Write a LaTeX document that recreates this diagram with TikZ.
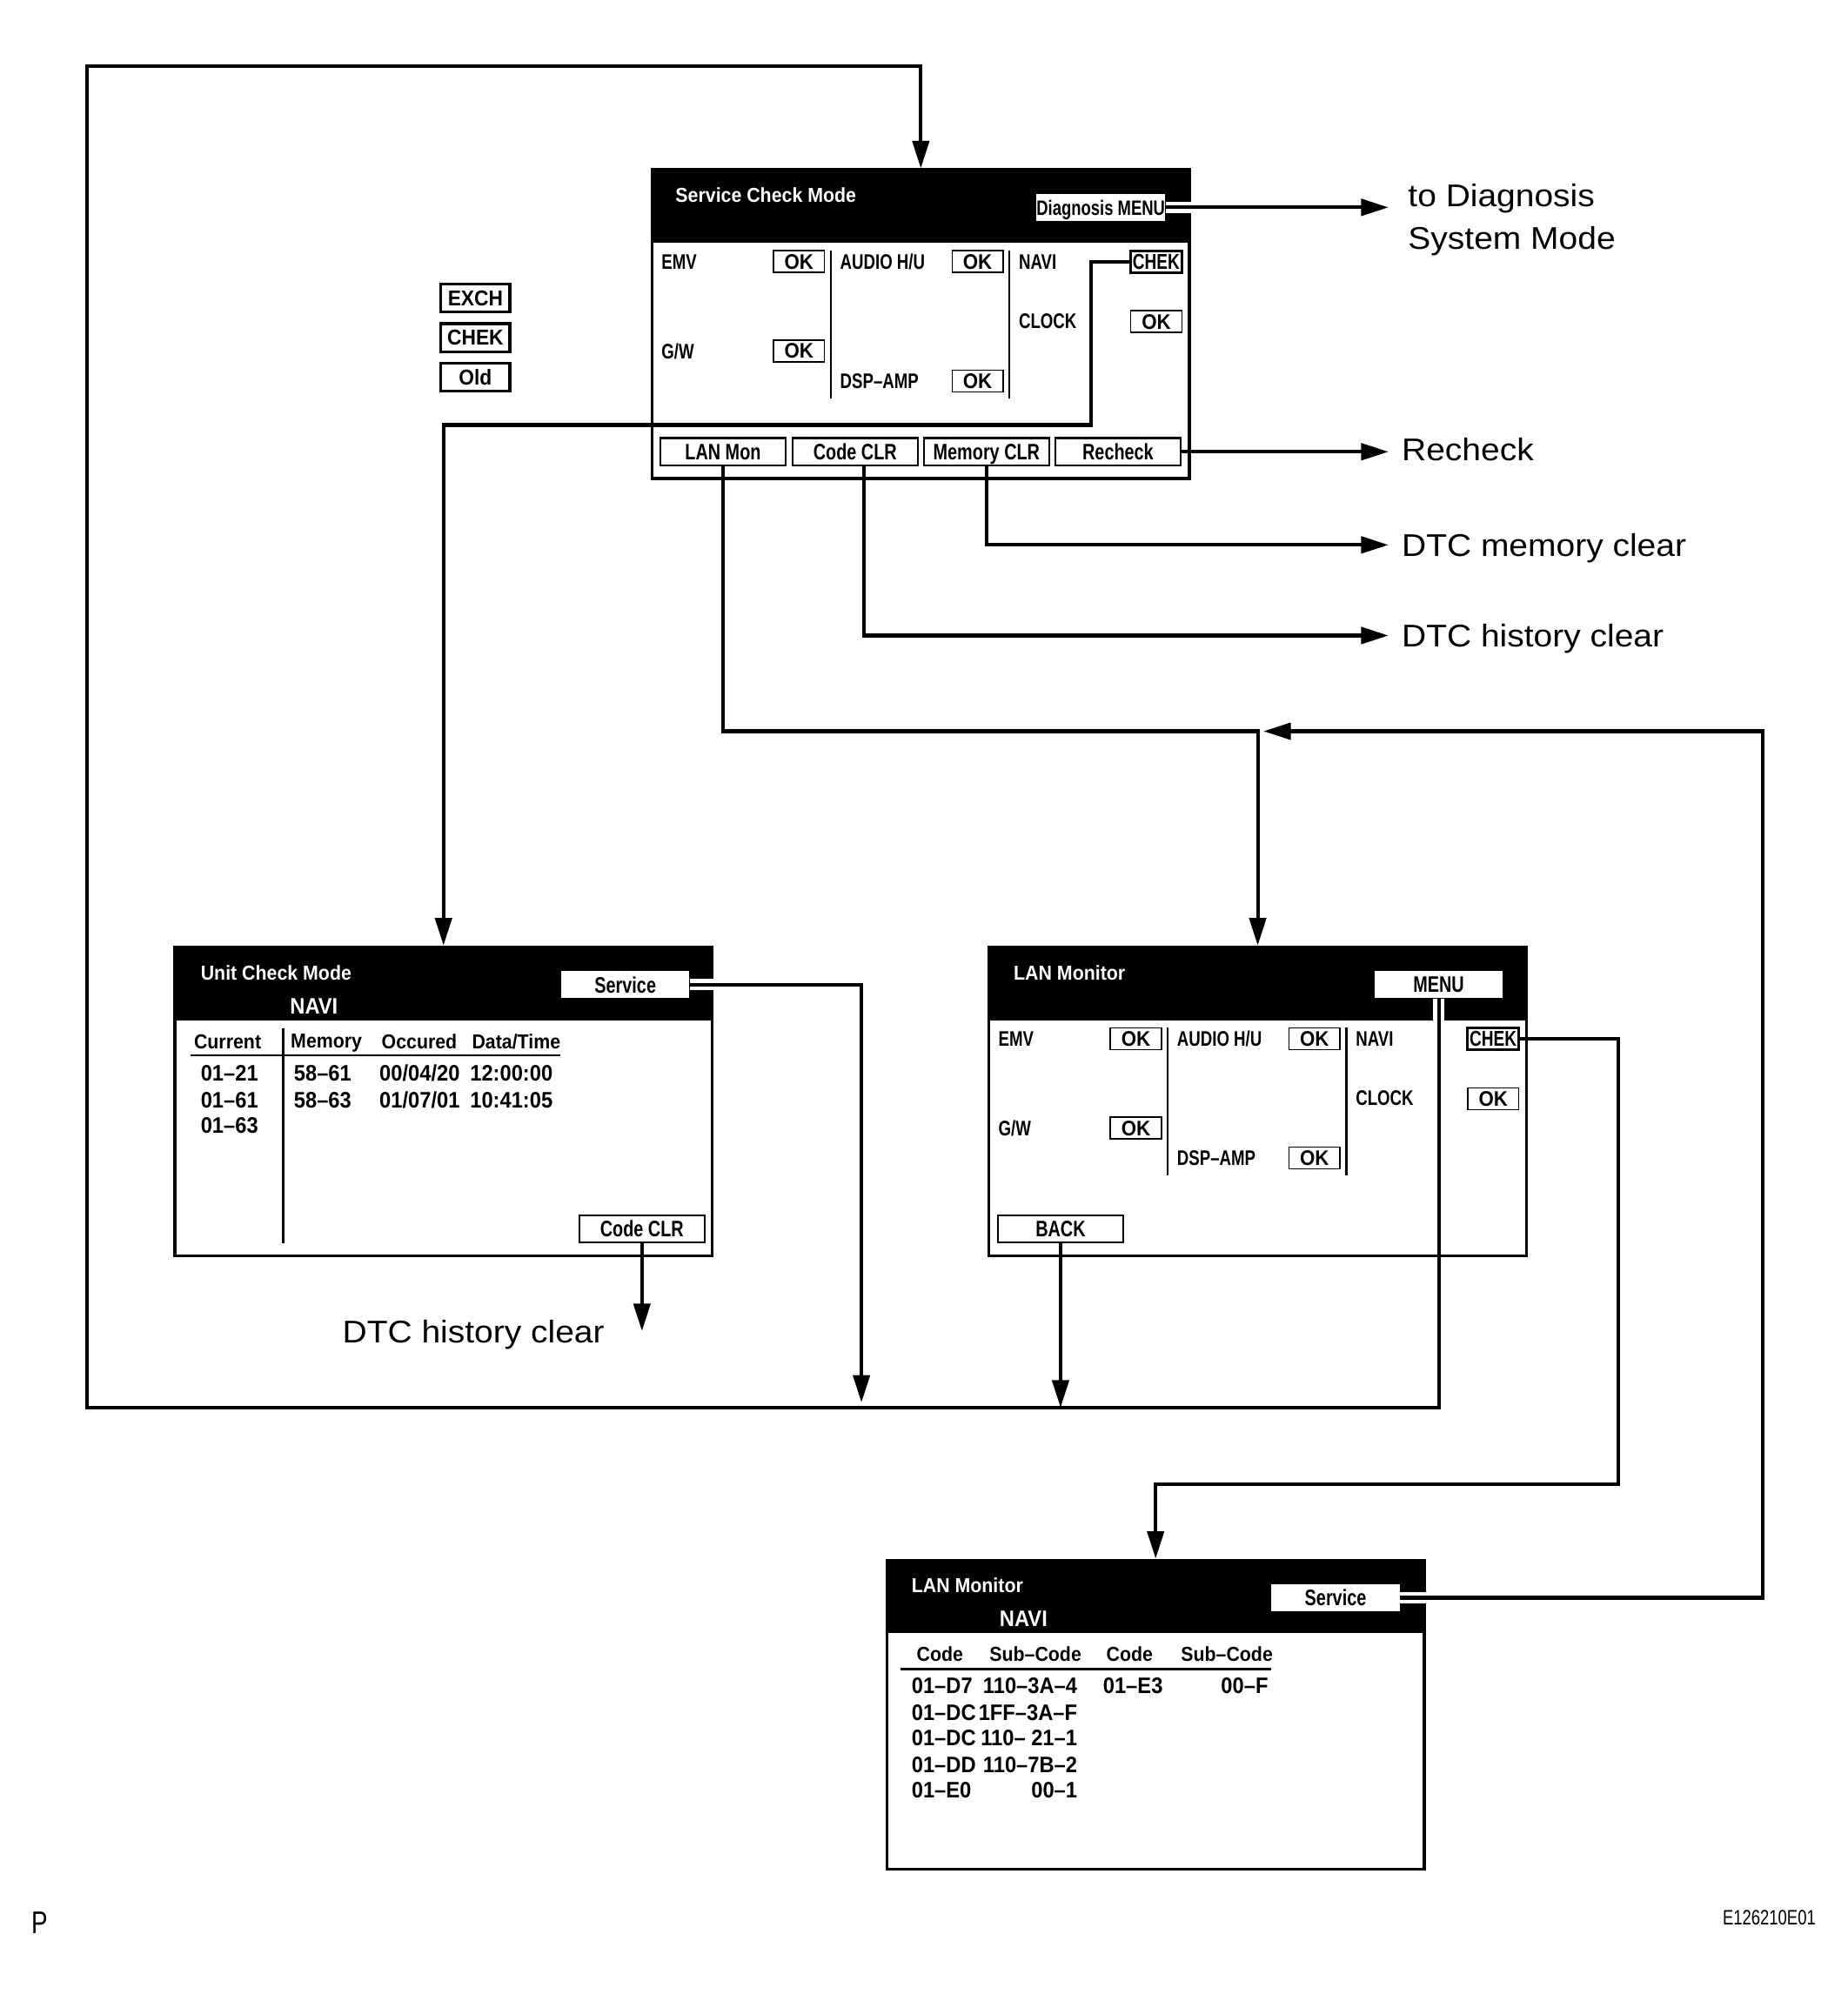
\documentclass[tikz,border=0pt]{standalone}
\usepackage{fontspec}
\setmainfont{Liberation Sans}
\newfontfamily\condfont[FakeStretch=0.77]{Liberation Sans}
\newfontfamily\widefont[FakeStretch=0.92]{Liberation Sans}
\newfontfamily\notefont[FakeStretch=1.08]{Liberation Sans}
\usepackage{tikz}
\usetikzlibrary{positioning, arrows.meta, calc}

% unit status grid, shared by Service Check Mode and LAN Monitor
\newcommand{\statusgrid}[1]{%
  \draw[sep] (140,63) -- (140,179);
  \draw[sep] (280,63) -- (280,179);
  \node[item] (#1emv) at (7,72) {EMV};
  \node[okbox] (#1emvok) at (115,72) {OK};
  \node[item] (#1audio) at (147,72) {AUDIO H/U};
  \node[okbox] (#1audiook) at (255,72) {OK};
  \node[item] (#1navi) at (287,72) {NAVI};
  \node[chekbox] (#1chek) at (395,72) {CHEK};
  \node[item] (#1clock) at (287,118.5) {CLOCK};
  \node[okbox] (#1clockok) at (395,119) {OK};
  \node[item] (#1gw) at (7,142) {G/W};
  \node[okbox] (#1gwok) at (115,142) {OK};
  \node[item] (#1dsp) at (147,165.5) {DSP–AMP};
  \node[okbox] (#1dspok) at (255,165.5) {OK};
}

\begin{document}
\begin{tikzpicture}[x=0.2mm, y=-0.2mm,
    screen/.style={draw, line width=1.3pt, minimum width=84.2mm,
                   minimum height=48.4mm, inner sep=0},
    headbtn/.style={fill=white, minimum width=20.1mm, minimum height=4.3mm,
                    inner sep=0, text depth=0pt,
                    font=\condfont\bfseries\fontsize{10}{12}\selectfont},
    title/.style={anchor=west, inner sep=0, text=white, text depth=0pt,
                  font=\widefont\bfseries\fontsize{9}{11}\selectfont},
    hnavi/.style={inner sep=0, text=white, text depth=0pt,
                  font=\widefont\bfseries\fontsize{10}{12}\selectfont},
    item/.style={anchor=west, inner sep=0, text depth=0pt,
                 font=\condfont\bfseries\fontsize{9.4}{11}\selectfont},
    okbox/.style={draw, line width=0.6pt, minimum width=8mm, minimum height=3.4mm,
                  inner sep=0, text depth=0pt,
                  font=\widefont\bfseries\fontsize{9.4}{11}\selectfont},
    chekbox/.style={okbox, line width=1.2pt,
                    font=\condfont\bfseries\fontsize{9.6}{11}\selectfont},
    button/.style={draw, line width=0.8pt, minimum width=19.6mm, minimum height=4.3mm,
                   inner sep=0, text depth=0pt,
                   font=\condfont\bfseries\fontsize{10}{12}\selectfont},
    colhead/.style={anchor=west, inner sep=0, text depth=0pt,
                    font=\widefont\bfseries\fontsize{9}{11}\selectfont},
    cell/.style={anchor=west, inner sep=0, text depth=0pt,
                 font=\widefont\bfseries\fontsize{10}{12}\selectfont},
    cellr/.style={cell, anchor=east},
    sep/.style={line width=0.9pt},
    tag/.style={draw, line width=1.2pt, minimum width=10.8mm, minimum height=4.4mm,
                inner sep=0, text depth=0pt,
                font=\widefont\bfseries\fontsize{9.6}{11}\selectfont},
    note/.style={anchor=west, inner sep=0, text depth=0pt,
                 font=\notefont\fontsize{14}{17}\selectfont},
    flow/.style={line width=1.6pt, -{Triangle[length=4.3mm, width=2.6mm]}},
    wire/.style={line width=1.6pt},
    halo/.style={white, line width=5pt}]

  % background / page size
  \fill[white] (0,0) rectangle (1448,1568);

  % Service Check Mode
  \begin{scope}[shift={(511,133)}]
    \fill (0,0) rectangle (421,57.5);
    \node[screen] (scm) at (210.5,121) {};
    \node[title] (scmtitle) at (18,20) {Service Check Mode};
    \node[headbtn, font=\condfont\bfseries\fontsize{9.3}{11}\selectfont]
         (scmdiag) at (351.5,29.5) {Diagnosis MENU};
    \statusgrid{scm}
    \node[button] (scmlan) at (55.5,221) {LAN Mon};
    \node[button] (scmcode) at (159,221) {Code CLR};
    \node[button] (scmmem) at (262,221) {Memory CLR};
    \node[button] (scmre) at (365,221) {Recheck};
  \end{scope}

  % Unit Check Mode
  \begin{scope}[shift={(137,742)}]
    \fill (0,0) rectangle (421,57.5);
    \node[screen] (ucm) at (210.5,121) {};
    \node[title] (ucmtitle) at (20,20.5) {Unit Check Mode};
    \node[hnavi] (ucmnavi) at (109,46.5) {NAVI};
    \node[headbtn] (ucmsrv) at (353,29.5) {Service};
    \node[colhead] (ucmh1) at (14.7,74) {Current};
    \node[colhead] (ucmh2) at (90.5,74) {Memory};
    \node[colhead] (ucmh3) at (161.7,74) {Occured};
    \node[colhead] (ucmh4) at (232.5,74) {Data/Time};
    \draw[sep] (12.5,85) -- (302,85);
    \draw[sep] (85,64) -- (85,232.5);
    \node[cell] (ucmc1) at (20,99) {01–21};
    \node[cell] (ucmc2) at (20,120) {01–61};
    \node[cell] (ucmc3) at (20,140) {01–63};
    \node[cell] (ucmm1) at (93,99) {58–61};
    \node[cell] (ucmm2) at (93,120) {58–63};
    \node[cell] (ucmd1) at (160,99) {00/04/20};
    \node[cell] (ucmd2) at (160,120) {01/07/01};
    \node[cell] (ucmt1) at (231,99) {12:00:00};
    \node[cell] (ucmt2) at (231,120) {10:41:05};
    \node[button] (ucmclr) at (366,221) {Code CLR};
  \end{scope}

  % LAN Monitor
  \begin{scope}[shift={(775,742)}]
    \fill (0,0) rectangle (421,57.5);
    \node[screen] (lm1) at (210.5,121) {};
    \node[title] (lm1title) at (19,20) {LAN Monitor};
    \node[headbtn] (lm1menu) at (352.3,29.5) {MENU};
    \statusgrid{lm1}
    \node[button] (lm1back) at (56,221) {BACK};
  \end{scope}

  % LAN Monitor, NAVI codes
  \begin{scope}[shift={(695,1222)}]
    \fill (0,0) rectangle (421,57.5);
    \node[screen] (lm2) at (210.5,121.5) {};
    \node[title] (lm2title) at (19,20.5) {LAN Monitor};
    \node[hnavi] (lm2navi) at (107,46.5) {NAVI};
    \node[headbtn] (lm2srv) at (351.5,30) {Service};
    \node[colhead] (lm2h1) at (23,74) {Code};
    \node[colhead] (lm2h2) at (80,74) {Sub–Code};
    \node[colhead] (lm2h3) at (171.6,74) {Code};
    \node[colhead] (lm2h4) at (230,74) {Sub–Code};
    \draw[sep] (10.6,86) -- (301,86);
    \node[cell] (lm2a1) at (19,99) {01–D7};
    \node[cellr] (lm2b1) at (149.4,99) {110–3A–4};
    \node[cell] (lm2c1) at (169,99) {01–E3};
    \node[cellr] (lm2d1) at (299,99) {00–F};
    \node[cell] (lm2a2) at (19,120) {01–DC};
    \node[cellr] (lm2b2) at (149.4,120) {1FF–3A–F};
    \node[cell] (lm2a3) at (19,140) {01–DC};
    \node[cellr] (lm2b3) at (149.4,140) {110– 21–1};
    \node[cell] (lm2a4) at (19,161) {01–DD};
    \node[cellr] (lm2b4) at (149.4,161) {110–7B–2};
    \node[cell] (lm2a5) at (19,181) {01–E0};
    \node[cellr] (lm2b5) at (149.4,181) {00–1};
  \end{scope}

  % legend tags
  \node[tag] (tagexch) at (372.5,233.5) {EXCH};
  \node[tag, below=1.4mm of tagexch] (tagchek) {CHEK};
  \node[tag, below=1.4mm of tagchek] (tagold) {Old};

  % result labels
  \node[note] (todiag) at (1103,153) {to Diagnosis};
  \node[note, below=3mm of todiag.south west, anchor=north west] (tosys) {System Mode};
  \node[note] (recheck) at (1098,352) {Recheck};
  \node[note] (dtcmem) at (1098,427) {DTC memory clear};
  \node[note] (dtchist) at (1098,498) {DTC history clear};
  \node[note] (dtchist2) at (268,1043) {DTC history clear};

  % corner marks
  \node[inner sep=0, font=\condfont\fontsize{14}{16}\selectfont] (pmark) at (31,1507) {P};
  \node[anchor=east, inner sep=0, font=\condfont\fontsize{9.3}{11}\selectfont]
       (figid) at (1423,1503) {E126210E01};

  % turning points
  \coordinate (loopbl) at (68,1103);
  \coordinate (looptop) at (721.5,52);
  \coordinate (scmturn) at (855,333);
  \coordinate (lanjoin) at (985.5,573);
  \coordinate (lanjoinr) at (990,573);
  \coordinate (srvturn) at (1381,573);
  \coordinate (chekturn) at (1268,1163);
  \coordinate (srvdrop) at (675,1099);

  % white gaps where lines cross the black headers
  \draw[halo] (scmdiag.east) -- (scmdiag.east -| scm.east);
  \draw[halo] (ucmsrv.east) -- (ucmsrv.east -| ucm.east);
  \draw[halo] (lm2srv.east) -- (lm2srv.east -| lm2.east);
  \draw[halo] (lm1menu.south) -- ++(0,18);

  % connectors
  \draw[flow] (lm1menu.south) |- (loopbl) |- (looptop) -- (scm.north);
  \draw[flow, shorten >=3mm] (scmdiag.east) -- (scmdiag.east -| todiag.west);
  \draw[flow, shorten >=2mm] (scmre.east) -- (scmre.east -| recheck.west);
  \draw[flow, shorten >=2mm] (scmmem.south) |- (dtcmem.west);
  \draw[flow, shorten >=2mm] ([xshift=1.4mm]scmcode.south) |- (dtchist.west);
  \draw[flow] (scmchek.west) -| (scmturn) -| (ucm.north);
  \draw[flow] (scmlan.south) |- (lanjoin) -- (lm1.north);
  \draw[flow] (lm2srv.east) -| (srvturn) -- (lanjoinr);
  \draw[flow] (lm1chek.east) -| (chekturn) -| (lm2.north);
  \draw[flow] (ucmsrv.east) -| (srvdrop);
  \draw[flow] (lm1back.south) -- (lm1back.south |- loopbl);
  \draw[flow] (ucmclr.south) -- (ucmclr.south |- dtchist2.east);
\end{tikzpicture}
\end{document}
